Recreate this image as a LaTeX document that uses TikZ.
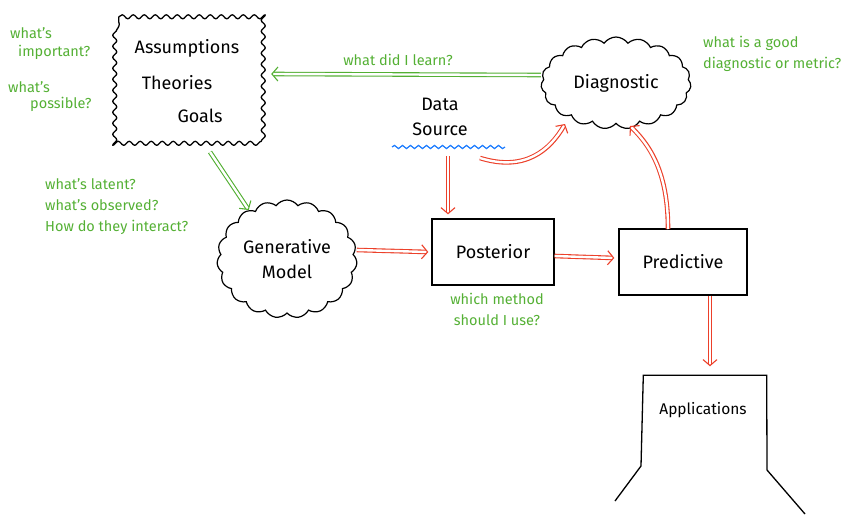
\documentclass[tikz,border=0pt]{standalone}
\usepackage{fontspec}
\setmainfont{Fira Sans}
\usetikzlibrary{arrows.meta,shapes.symbols,decorations.pathmorphing}
\definecolor{ared}{RGB}{236,64,42}
\definecolor{agreen}{RGB}{84,176,52}
\definecolor{awave}{RGB}{30,125,255}
\begin{document}
\begin{tikzpicture}[x=1pt,y=-1pt,
  dblarr/.style={draw=white, line width=2.4pt, -{Straight Barb[color=#1, line width=1.1pt, length=6pt, width=14pt]}, preaction={draw=#1, line width=4.6pt, -, shorten >=2.5pt}},
  redarr/.style={dblarr=ared},
  greenarr/.style={dblarr=agreen},
  wavyline/.style={draw, line width=1.3pt, line join=round, decorate, decoration={snake, amplitude=2pt, segment length=11pt}},
  cloudst/.style={cloud, draw, line width=1.2pt, cloud puffs=19, cloud puff arc=110, cloud ignores aspect, inner sep=0pt},
  sbox/.style={draw, line width=1.3pt, inner sep=0pt},
  lbl/.style={font=\fontsize{18}{25}\selectfont, align=center},
  note/.style={text=agreen, font=\fontsize{14.5}{21}\selectfont, align=left, inner sep=0pt}]
\useasboundingbox (0,0) rectangle (843,514);

% Assumptions box
\node[minimum width=144, minimum height=128, inner sep=0pt] (assm) at (191,81) {};
\draw[wavyline] (assm.north west) -- (assm.north east) -- (assm.south east) -- (assm.south west) -- cycle;
\node[lbl] (t1) at (187,48) {Assumptions};
\node[lbl] (t2) at (177,83) {Theories};
\node[lbl] (t3) at (200,116) {Goals};

% Diagnostic cloud
\node[cloudst, minimum width=150, minimum height=92, lbl] (diag) at (616,83) {Diagnostic};

% Generative model
\node[cloudst, minimum width=140, minimum height=118, lbl] (gen) at (287,259) {Generative\\Model};

% Posterior, Predictive
\node[sbox, minimum width=122, minimum height=66, lbl] (post) at (493,252) {Posterior};
\node[sbox, minimum width=128, minimum height=66, lbl] (pred) at (683,262) {Predictive};

% Data source
\node[lbl, inner sep=0pt] (data) at (440,117) {Data\\Source};
\coordinate (wl) at (392,147);
\coordinate (wr) at (505,147);
\draw[awave, line width=1.2pt, decorate, decoration={snake, amplitude=1.6pt, segment length=8pt}] (wl) -- (wr);

% Applications
\node[minimum width=123, minimum height=95, inner sep=0pt] (app) at (705,423) {};
\node[font=\fontsize{15.5}{18}\selectfont] (apptxt) at (703,410) {Applications};
\coordinate (al) at (615,501);
\coordinate (ar) at (805,514);
\draw[line width=1.3pt] (al) -- (641,466) -- (app.north west) -- (app.north east) -- (767,470) -- (ar);

% Green arrows
\coordinate (ga) at (210,152);
\draw[greenarr] (ga) -- (gen.128);
\draw[greenarr] ([yshift=8pt]diag.west) -- ([xshift=8pt,yshift=7pt]assm.east);

% Red arrows
\coordinate (ds1) at (448,156);
\draw[redarr] (ds1) -- ([yshift=4pt]ds1 |- post.north);
\coordinate (ds2) at (480,158);
\coordinate (dt2) at (565,124);
\draw[redarr] (ds2) .. controls (525,172) and (550,150) .. (dt2);
\coordinate (pa) at (668,229);
\coordinate (pt) at (630,126);
\draw[redarr] (pa) .. controls (668,180) and (655,150) .. (pt);
\draw[redarr] ([yshift=9pt]gen.east) -- ([xshift=-3pt]post.west);
\draw[redarr] ([yshift=-4pt]post.east) -- ([xshift=-4pt,yshift=4pt]pred.west);
\draw[redarr] ([xshift=27pt]pred.south) -- ([yshift=9pt]app.north -| 710,0);

% Green notes
\node[note, anchor=west] (n1) at (10,33) {what's};
\node[note, anchor=west] (n2) at (18,52) {important?};
\node[note, anchor=west] (n3) at (8,87) {what's};
\node[note, anchor=west] (n4) at (30,104) {possible?};
\node[note, anchor=north west] (n5) at (45,178) {what's latent?\\what's observed?\\How do they interact?};
\node[note, anchor=north west] (n6) at (703,36) {what is a good\\diagnostic or metric?};
\node[note] (n7) at (398,60) {what did I learn?};
\node[note, align=center, anchor=north] (n8) at (497,293) {which method\\should I use?};
\end{tikzpicture}
\end{document}
